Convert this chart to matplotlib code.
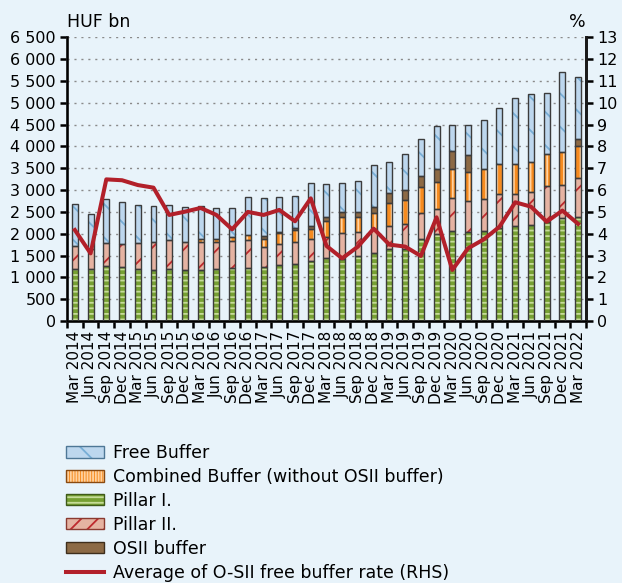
import matplotlib
matplotlib.use("Agg")
import matplotlib.pyplot as plt
from matplotlib.patches import Patch
from matplotlib.lines import Line2D
from matplotlib.legend_handler import HandlerTuple
from matplotlib.ticker import FuncFormatter, MultipleLocator
import numpy as np

plt.rcParams['font.family'] = ['DejaVu Sans']
plt.rcParams['hatch.linewidth'] = 1.3

quarters = ["Mar 2014", "Jun 2014", "Sep 2014", "Dec 2014", "Mar 2015", "Jun 2015",
            "Sep 2015", "Dec 2015", "Mar 2016", "Jun 2016", "Sep 2016", "Dec 2016",
            "Mar 2017", "Jun 2017", "Sep 2017", "Dec 2017", "Mar 2018", "Jun 2018",
            "Sep 2018", "Dec 2018", "Mar 2019", "Jun 2019", "Sep 2019", "Dec 2019",
            "Mar 2020", "Jun 2020", "Sep 2020", "Dec 2020", "Mar 2021", "Jun 2021",
            "Sep 2021", "Dec 2021", "Mar 2022"]

# Capital components, HUF bn
pillar1 = [1184, 1184, 1260, 1230, 1184, 1161, 1184, 1161, 1161, 1184, 1207, 1207,
           1230, 1276, 1298, 1375, 1436, 1430, 1497, 1550, 1642, 1660, 1879, 1986,
           2070, 2032, 2070, 2139, 2177, 2200, 2261, 2353, 2391]
pillar2 = [535, 466, 520, 527, 596, 642, 672, 657, 642, 619, 634, 657,
           458, 481, 505, 512, 481, 579, 535, 566, 535, 563, 588, 573,
           756, 725, 733, 779, 725, 748, 832, 763, 878]
combined = [0, 0, 0, 0, 0, 0, 0, 0, 84, 84, 91, 99,
            199, 252, 282, 229, 374, 382, 359, 351, 519, 550, 596, 626,
            665, 650, 672, 672, 688, 695, 726, 749, 749]
osii = [0, 0, 0, 0, 0, 0, 0, 0, 0, 0, 0, 0,
        53, 23, 38, 57, 100, 114, 114, 138, 229, 221, 252, 291,
        397, 389, 0, 0, 0, 0, 0, 0, 145]
free_buffer = [970, 794, 1023, 977, 878, 824, 802, 794, 756, 695, 650, 886,
               886, 817, 749, 997, 748, 665, 711, 970, 718, 825, 848, 992,
               603, 695, 1131, 1283, 1527, 1551, 1398, 1833, 1436]
# Average O-SII free buffer rate, %
free_rate = [4.17, 3.10, 6.49, 6.45, 6.23, 6.11, 4.86, 5.01, 5.18, 4.86, 4.20, 5.00,
             4.86, 5.09, 4.57, 5.62, 3.44, 2.87, 3.41, 4.23, 3.50, 3.41, 2.98, 4.75,
             2.34, 3.33, 3.74, 4.32, 5.44, 5.24, 4.55, 5.06, 4.45]

BG = '#E8F3FA'
OUTLINE = '#3C3C3C'
LINE_RED = '#B2202A'
FS_TICK = 11.5
FS_XLAB = 11
FS_LEG = 12.5

# values, fill, hatch colour, hatch, legend outline
styles = {
    "Pillar I.": (pillar1, '#76A032', '#C6DC98', '---', '#3F5A1A'),
    "Pillar II.": (pillar2, '#E5B3A2', '#BE2A2E', '/', '#8A3A30'),
    "Combined Buffer (without OSII buffer)": (combined, '#F68B1F', '#FFD2A0', '|||', '#8A4A10'),
    "OSII buffer": (osii, '#8C6A45', None, None, '#3E2E1C'),
    "Free Buffer": (free_buffer, '#BDD7EE', '#78AED6', '\\', '#4E7796'),
}
stack_order = ["Pillar I.", "Pillar II.", "Combined Buffer (without OSII buffer)",
               "OSII buffer", "Free Buffer"]

fig = plt.figure(figsize=(6.22, 5.83), dpi=100, facecolor=BG)
ax = fig.add_axes([0.1077, 0.4494, 0.8344, 0.4866])
ax.set_facecolor(BG)

x = np.arange(len(quarters))
width = 0.38
bottom = np.zeros(len(quarters))
for name in stack_order:
    vals, fill, hcol, hatch, _ = styles[name]
    vals = np.array(vals, dtype=float)
    if hatch:
        ax.bar(x, vals, width, bottom=bottom, color=fill, edgecolor=hcol,
               linewidth=0, hatch=hatch, zorder=2)
    else:
        ax.bar(x, vals, width, bottom=bottom, color=fill, linewidth=0, zorder=2)
    mask = vals > 0
    ax.bar(x[mask], vals[mask], width, bottom=bottom[mask], fill=False,
           edgecolor=OUTLINE, linewidth=1.0, zorder=3)
    bottom += vals

ax.set_xlim(-0.5, len(quarters) - 0.5)
ax.set_ylim(0, 6500)
ax.yaxis.set_major_locator(MultipleLocator(500))
ax.yaxis.set_major_formatter(FuncFormatter(lambda v, p: f"{int(v):,}".replace(",", " ")))
ax.grid(axis='y', color='#8A8A8A', linestyle=(0, (1.5, 3.5)), linewidth=1.0, zorder=0)
ax.set_axisbelow(True)

ax.set_xticks(x)
ax.set_xticklabels(quarters, rotation=90)
ax.set_xticks(np.arange(-0.5, len(quarters), 1), minor=True)
ax.tick_params(axis='x', which='major', length=0, pad=7, labelsize=FS_XLAB)
ax.tick_params(axis='x', which='minor', length=5, width=1.8, direction='out')
ax.tick_params(axis='y', length=5, width=1.8, labelsize=FS_TICK, pad=3)

ax.spines['top'].set_visible(False)
for side in ['left', 'bottom', 'right']:
    ax.spines[side].set_linewidth(2.0)
    ax.spines[side].set_color('#1A1A1A')

ax2 = ax.twinx()
ax2.set_ylim(0, 13)
ax2.yaxis.set_major_locator(MultipleLocator(1))
ax2.tick_params(axis='y', length=5, width=1.8, labelsize=FS_TICK, pad=3)
ax2.spines['top'].set_visible(False)
ax2.spines['right'].set_linewidth(2.0)
ax2.spines['right'].set_color('#1A1A1A')
ax2.plot(x, free_rate, color=LINE_RED, linewidth=2.9, zorder=5)

fig.text(67 / 622, 1 - 22 / 583, "HUF bn", fontsize=FS_LEG, va='center', ha='left')
fig.text(586 / 622, 1 - 22 / 583, "%", fontsize=FS_LEG, va='center', ha='right')

legend_order = ["Free Buffer", "Combined Buffer (without OSII buffer)", "Pillar I.",
                "Pillar II.", "OSII buffer"]
legend_hatch = {"Free Buffer": '\\', "Combined Buffer (without OSII buffer)": '||||||',
                "Pillar I.": '---', "Pillar II.": '//', "OSII buffer": None}
handles = []
for name in legend_order:
    _, fill, hcol, _, edge = styles[name]
    h = legend_hatch[name]
    if h:
        body = Patch(facecolor=fill, edgecolor=hcol, hatch=h, linewidth=0)
    else:
        body = Patch(facecolor=fill, linewidth=0)
    frame = Patch(fill=False, edgecolor=edge, linewidth=1.0)
    handles.append((body, frame))
handles.append(Line2D([0], [0], color=LINE_RED, linewidth=2.9))
labels = legend_order + ["Average of O-SII free buffer rate (RHS)"]

fig.legend(handles, labels, loc='upper left', bbox_to_anchor=(66 / 622, 1 - 444 / 583),
           frameon=False, fontsize=FS_LEG, borderpad=0, borderaxespad=0,
           handlelength=2.19, handleheight=0.62, handletextpad=0.52, labelspacing=0.345,
           handler_map={tuple: HandlerTuple(ndivide=1, pad=0)})

fig.savefig("out.png", dpi=100, facecolor=BG)
